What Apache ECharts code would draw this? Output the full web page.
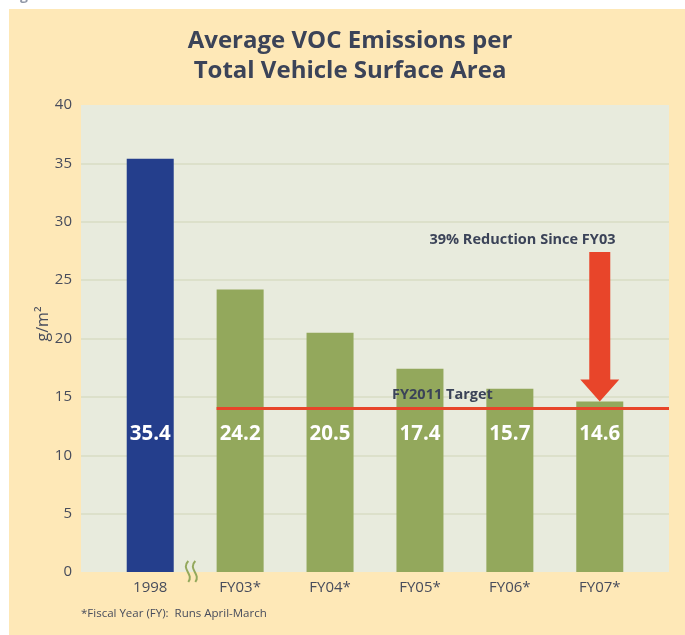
<!DOCTYPE html>
<html>
<head>
<meta charset="utf-8">
<script src="https://cdn.jsdelivr.net/npm/echarts@6/dist/echarts.min.js"></script>
<style>
  html, body { margin: 0; padding: 0; background: #ffffff; }
  #c { width: 685px; height: 635px; }
</style>
</head>
<body>
<div id="c"></div>
<script>
// ---- data ----
const CATEGORIES = ['1998', 'FY03*', 'FY04*', 'FY05*', 'FY06*', 'FY07*'];
const VALUES = [35.4, 24.2, 20.5, 17.4, 15.7, 14.6];
const BAR_COLORS = ['#243E8C', '#93A85C', '#93A85C', '#93A85C', '#93A85C', '#93A85C'];
const Y_MIN = 0, Y_MAX = 40, Y_STEP = 5;
const TARGET = 14;
const TARGET_LABEL = 'FY2011 Target';
const ARROW_FROM = 27.4;           // top of the reduction arrow (g/m²)
const ARROW_CAT = 5;               // arrow points at FY07
const ANNOTATION = '39% Reduction Since FY03';
const TITLE_LINES = ['Average VOC Emissions per', 'Total Vehicle Surface Area'];
const Y_NAME = 'g/m²';
const FOOTNOTE = '*Fiscal Year (FY):  Runs April-March';

// ---- styling ----
const FONT = '"Open Sans", "DejaVu Sans", sans-serif';
const DARK = '#3B4358';
const TICK = '#474C5C';
const RED = '#E8452A';
const GREEN = '#93A85C';
const X_MIN = -0.77, X_MAX = 5.77;
const BAR_W = 47;

const chart = echarts.init(document.getElementById('c'), null, { renderer: 'canvas' });

const option = {
  backgroundColor: '#FEE8B7',
  animation: false,
  textStyle: { fontFamily: FONT },
  grid: {
    left: 81, right: 16, top: 105, bottom: 63,
    show: true, backgroundColor: '#E8EBDD', borderWidth: 0
  },
  xAxis: {
    type: 'value',
    min: X_MIN, max: X_MAX,
    splitLine: { show: false },
    axisLine: { show: false },
    axisTick: { show: false },
    axisLabel: {
      customValues: CATEGORIES.map((_, i) => i),
      formatter: v => CATEGORIES[Math.round(v)] || '',
      fontSize: 15, color: TICK, margin: 8, fontFamily: FONT
    }
  },
  yAxis: {
    type: 'value',
    min: Y_MIN, max: Y_MAX, interval: Y_STEP,
    axisLine: { show: false },
    axisTick: { show: false },
    axisLabel: { fontSize: 15, color: TICK, margin: 9, fontFamily: FONT },
    splitLine: {
      show: true, showMinLine: false, showMaxLine: false,
      lineStyle: { color: '#DCE0CA', width: 2 }
    }
  },
  series: [{
    type: 'bar',
    barWidth: BAR_W,
    data: VALUES.map((v, i) => ({ value: [i, v], itemStyle: { color: BAR_COLORS[i] } })),
    label: {
      show: true,
      position: 'insideBottom',
      distance: 127,
      formatter: p => p.value[1].toFixed(1),
      color: '#ffffff', fontSize: 20.5, fontWeight: 'bold', fontFamily: FONT
    },
    markLine: {
      silent: true,
      symbol: ['none', 'none'],
      label: { show: false },
      lineStyle: { color: RED, width: 3, type: 'solid' },
      data: [[{ coord: [1 - 0.262, TARGET] }, { coord: [X_MAX, TARGET] }]]
    }
  }]
};
chart.setOption(option);

// ---- annotations positioned through the axes ----
const px = (x, y) => chart.convertToPixel({ gridIndex: 0 }, [x, y]);
const arrowTop = px(ARROW_CAT, ARROW_FROM);
const arrowTip = px(ARROW_CAT, VALUES[ARROW_CAT]);
const ax = arrowTop[0];
const shaftHalf = 10.5, headHalf = 19.5, headLen = 22;
const arrowPts = [
  [ax - shaftHalf, arrowTop[1]],
  [ax + shaftHalf, arrowTop[1]],
  [ax + shaftHalf, arrowTip[1] - headLen],
  [ax + headHalf, arrowTip[1] - headLen],
  [ax, arrowTip[1]],
  [ax - headHalf, arrowTip[1] - headLen],
  [ax - shaftHalf, arrowTip[1] - headLen]
];
const targetPos = px(3.25, TARGET);
const annoPos = px(4.14, ARROW_FROM);
const breakPos = px(0.457, Y_MIN);

function squiggle(cx, top) {
  return {
    type: 'bezierCurve',
    shape: { x1: cx + 1, y1: top, cpx1: cx - 7, cpy1: top + 8, cpx2: cx + 7, cpy2: top + 13, x2: cx + 1, y2: top + 21 },
    style: { stroke: GREEN, lineWidth: 2, fill: null },
    z: 10
  };
}

chart.setOption({
  graphic: [
    // white margin strips outside the cream panel
    { type: 'rect', shape: { x: 0, y: 0, width: 685, height: 9 }, style: { fill: '#ffffff' }, z: 0 },
    { type: 'rect', shape: { x: 0, y: 0, width: 9, height: 635 }, style: { fill: '#ffffff' }, z: 0 },
    { type: 'text', x: 8, y: 3, style: { text: 'Figure 4', font: 'bold 14px ' + FONT, fill: '#9097A6', textVerticalAlign: 'bottom' }, z: 1 },
    // title
    { type: 'text', x: 350, y: 41, style: { text: TITLE_LINES[0], font: 'bold 24px ' + FONT, fill: DARK, textAlign: 'center', textVerticalAlign: 'middle' } },
    { type: 'text', x: 350, y: 71, style: { text: TITLE_LINES[1], font: 'bold 24px ' + FONT, fill: DARK, textAlign: 'center', textVerticalAlign: 'middle' } },
    // y-axis name
    { type: 'text', x: 43, y: 324, rotation: Math.PI / 2, style: { text: Y_NAME, font: '16px ' + FONT, fill: TICK, textAlign: 'center', textVerticalAlign: 'middle' } },
    // target label
    { type: 'text', x: targetPos[0], y: targetPos[1] - 14, style: { text: TARGET_LABEL, font: 'bold 14.5px ' + FONT, fill: DARK, textAlign: 'center', textVerticalAlign: 'middle' }, z: 20 },
    // reduction arrow + label
    { type: 'polygon', shape: { points: arrowPts }, style: { fill: RED }, z: 20 },
    { type: 'text', x: annoPos[0], y: annoPos[1] - 12, style: { text: ANNOTATION, font: 'bold 14.5px ' + FONT, fill: DARK, textAlign: 'center', textVerticalAlign: 'middle' }, z: 20 },
    // axis break marks
    squiggle(breakPos[0] - 4, breakPos[1] - 11),
    squiggle(breakPos[0] + 3, breakPos[1] - 11),
    // footnote
    { type: 'text', x: 81, y: 614, style: { text: FOOTNOTE, font: '11.5px ' + FONT, fill: TICK, textVerticalAlign: 'middle' } }
  ]
});
</script>
</body>
</html>
